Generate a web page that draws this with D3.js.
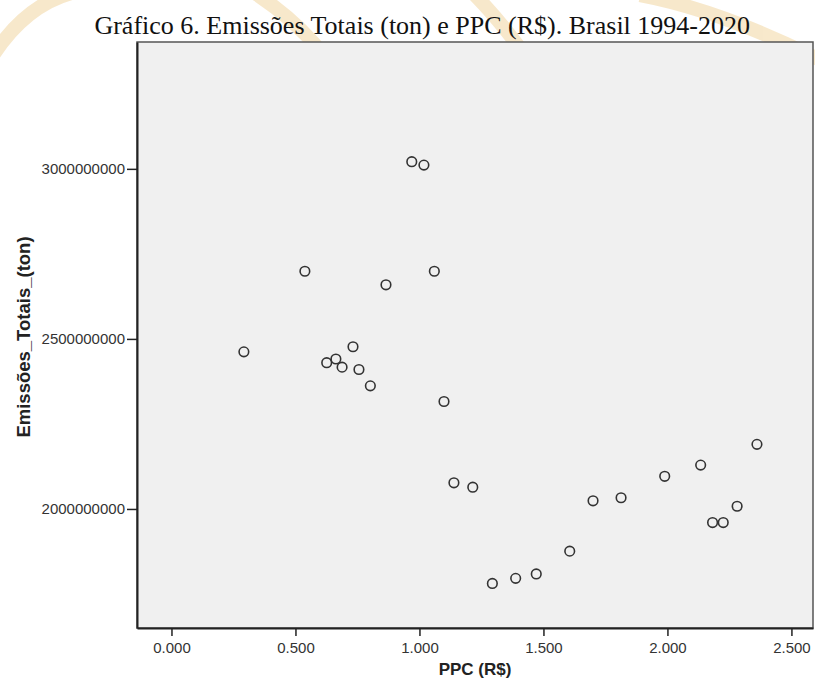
<!DOCTYPE html>
<html>
<head>
<meta charset="utf-8">
<script src="https://cdn.jsdelivr.net/npm/d3@7"></script>
<style>
  body { margin: 0; background: #fff; }
  svg { display: block; }
</style>
</head>
<body>
<div id="chart"></div>
<script>
// PPC (R$) per year, 1994-2020
var ppc = [0.292, 0.538, 0.626, 0.663, 0.688, 0.732, 0.756, 0.802, 0.865,
  0.969, 1.018, 1.060, 1.099, 1.139, 1.215, 1.294, 1.388, 1.471, 1.606,
  1.700, 1.813, 1.989, 2.134, 2.182, 2.225, 2.281, 2.361];

// total emissions (ton), same order as ppc
var emissoes = [2462e6, 2699e6, 2430e6, 2441e6, 2417e6, 2477e6, 2410e6, 2362e6, 2659e6,
  3021e6, 3011e6, 2699e6, 2316e6, 2077e6, 2064e6, 1781e6, 1796e6, 1809e6, 1876e6,
  2024e6, 2033e6, 2096e6, 2129e6, 1960e6, 1960e6, 2008e6, 2190e6];

var xTicks = [0, 0.5, 1, 1.5, 2, 2.5];
var yTicks = [2000000000, 2500000000, 3000000000];

var svgWidth = 815;
var svgHeight = 687;

var margin = {top: 42, right: 2, bottom: 59, left: 137};
var width = svgWidth - margin.left - margin.right;
var height = svgHeight - margin.top - margin.bottom;

var svg = d3.select("#chart")
  .append("svg")
  .attr("width", svgWidth)
  .attr("height", svgHeight);

// faint watermark curves behind the title
var wm = svg.append("g")
  .attr("fill", "none")
  .attr("stroke", "#f6e3bf")
  .attr("stroke-width", 14)
  .attr("opacity", 0.8);
wm.append("path").attr("d", "M-10,60 Q40,-20 120,-10");
wm.append("path").attr("d", "M250,-10 Q330,40 360,120");
wm.append("path").attr("d", "M470,-10 Q520,40 560,110");
wm.append("path").attr("d", "M640,-5 Q720,10 820,60");

// title
svg.append("text")
  .attr("x", 750)
  .attr("y", 34)
  .attr("text-anchor", "end")
  .style("font-family", "'Liberation Serif', 'Times New Roman', serif")
  .style("font-size", "26px")
  .attr("fill", "#111")
  .text("Gráfico 6. Emissões Totais (ton) e PPC (R$). Brasil 1994-2020");

var chartGroup = svg.append("g")
  .attr("transform", `translate(${margin.left}, ${margin.top})`);

// scales
var xLinearScale = d3.scaleLinear()
  .domain([-0.139, 2.587])
  .range([0, width]);

var yLinearScale = d3.scaleLinear()
  .domain([1650e6, 3373e6])
  .range([height, 0]);

// plot background
chartGroup.append("rect")
  .attr("width", width)
  .attr("height", height)
  .attr("fill", "#f0f0f0")
  .attr("stroke", "#555")
  .attr("stroke-width", 1.5);

// axes
var bottomAxis = d3.axisBottom(xLinearScale)
  .tickValues(xTicks)
  .tickSize(8)
  .tickSizeOuter(0)
  .tickFormat(d3.format(".3f"));

var leftAxis = d3.axisLeft(yLinearScale)
  .tickValues(yTicks)
  .tickSize(10)
  .tickSizeOuter(0)
  .tickFormat(d3.format("d"));

var xAxis = chartGroup.append("g")
  .attr("transform", `translate(0, ${height})`)
  .call(bottomAxis);

var yAxis = chartGroup.append("g")
  .call(leftAxis);

[xAxis, yAxis].forEach(function(ax) {
  ax.select(".domain").attr("stroke", "#222").attr("stroke-width", 2);
  ax.selectAll(".tick line").attr("stroke", "#222").attr("stroke-width", 1.5);
  ax.selectAll(".tick text")
    .style("font-family", "Arial, 'Liberation Sans', sans-serif")
    .style("font-size", "15px")
    .attr("fill", "#333");
});
xAxis.selectAll(".tick text").attr("dy", "0.9em");
yAxis.selectAll(".tick text").attr("x", -12);

// points
var data = ppc.map(function(d, i) { return {ppc: d, emissoes: emissoes[i]}; });

chartGroup.append("g")
  .selectAll("circle")
  .data(data)
  .enter()
  .append("circle")
  .attr("cx", d => xLinearScale(d.ppc))
  .attr("cy", d => yLinearScale(d.emissoes))
  .attr("r", 4.8)
  .attr("fill", "none")
  .attr("stroke", "#333")
  .attr("stroke-width", 1.6);

// axis titles
svg.append("text")
  .attr("x", margin.left + width / 2)
  .attr("y", 675)
  .attr("text-anchor", "middle")
  .style("font-family", "Arial, 'Liberation Sans', sans-serif")
  .style("font-size", "17px")
  .style("font-weight", "bold")
  .attr("fill", "#222")
  .text("PPC (R$)");

svg.append("text")
  .attr("transform", "translate(30, 337) rotate(-90)")
  .attr("text-anchor", "middle")
  .style("font-family", "Arial, 'Liberation Sans', sans-serif")
  .style("font-size", "18.5px")
  .style("font-weight", "bold")
  .attr("fill", "#222")
  .text("Emissões_Totais_(ton)");
</script>
</body>
</html>
